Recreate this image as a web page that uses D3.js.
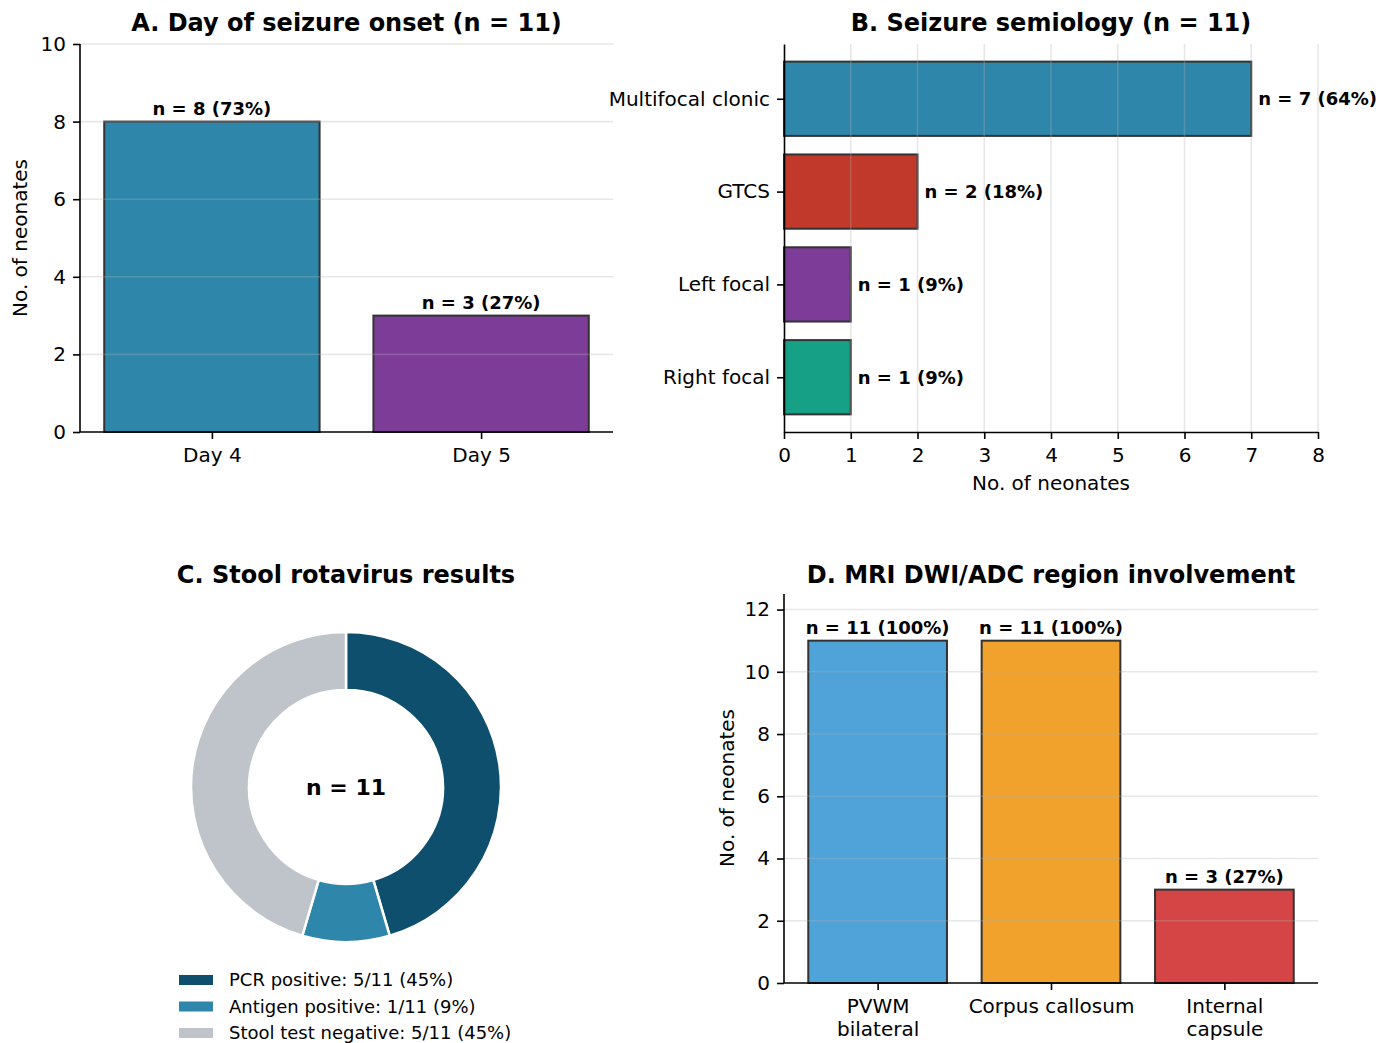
<!DOCTYPE html>
<html>
<head>
<meta charset="utf-8">
<script src="https://cdn.jsdelivr.net/npm/d3@7"></script>
<style>
body { margin: 0; background: #fff; }
svg { display: block; font-family: "DejaVu Sans", sans-serif; }
</style>
</head>
<body>
<div id="chart"></div>
<script>
// panel A - day of onset
var onsetDays = ["Day 4", "Day 5"];
var onsetCounts = [8, 3];
var onsetLabels = ["n = 8 (73%)", "n = 3 (27%)"];
var onsetColors = ["#2E86AB", "#7D3C98"];
var onsetTicks = [0, 2, 4, 6, 8, 10];

// panel B - semiology
var semioTypes = ["Multifocal clonic", "GTCS", "Left focal", "Right focal"];
var semioCounts = [7, 2, 1, 1];
var semioLabels = ["n = 7 (64%)", "n = 2 (18%)", "n = 1 (9%)", "n = 1 (9%)"];
var semioColors = ["#2E86AB", "#C0392B", "#7D3C98", "#16A085"];
var semioTicks = [0, 1, 2, 3, 4, 5, 6, 7, 8];

// panel C - stool rotavirus
var stoolGroups = ["PCR positive: 5/11 (45%)", "Antigen positive: 1/11 (9%)", "Stool test negative: 5/11 (45%)"];
var stoolCounts = [5, 1, 5];
var stoolColors = ["#0D4F6C", "#2E86AB", "#BEC4C9"];

// panel D - MRI regions
var mriRegions = [["PVWM", "bilateral"], ["Corpus callosum"], ["Internal", "capsule"]];
var mriCounts = [11, 11, 3];
var mriLabels = ["n = 11 (100%)", "n = 11 (100%)", "n = 3 (27%)"];
var mriColors = ["#4FA3D8", "#F0A22C", "#D64545"];
var mriTicks = [0, 2, 4, 6, 8, 10, 12];

var W = 1392, H = 1043;
var svg = d3.select("#chart").append("svg").attr("width", W).attr("height", H);

var gridColor = "#b0b0b0";
var edge = "#333333";

function title(txt, cx, y) {
    svg.append("text").attr("x", cx).attr("y", y)
        .attr("text-anchor", "middle").attr("font-size", 24).attr("font-weight", "bold")
        .text(txt);
}

function yLabel(txt, x, cy) {
    svg.append("text")
        .attr("transform", "translate(" + x + "," + cy + ") rotate(-90)")
        .attr("text-anchor", "middle").attr("dominant-baseline", "central")
        .attr("font-size", 20).text(txt);
}

// vertical bar panel (A and D)
function vBars(box, cats, vals, labels, colors, ticks, ymax) {
    var n = cats.length;
    var pad = (n - 1 + 0.8) * 0.05;
    var x = d3.scaleLinear().domain([-0.4 - pad, n - 1 + 0.4 + pad]).range([box.l, box.r]);
    var y = d3.scaleLinear().domain([0, ymax]).range([box.b, box.t]);

    svg.selectAll(null).data(vals).enter().append("rect")
        .attr("x", function(d, i) { return x(i - 0.4); })
        .attr("width", function(d, i) { return x(i + 0.4) - x(i - 0.4); })
        .attr("y", function(d) { return y(d); })
        .attr("height", function(d) { return y(0) - y(d); })
        .attr("fill", function(d, i) { return colors[i]; })
        .attr("stroke", edge).attr("stroke-width", 2);

    // grid on top, faint
    svg.selectAll(null).data(ticks.filter(function(t) { return t > 0; })).enter().append("line")
        .attr("x1", box.l).attr("x2", box.r)
        .attr("y1", function(d) { return y(d); }).attr("y2", function(d) { return y(d); })
        .attr("stroke", gridColor).attr("stroke-opacity", 0.3).attr("stroke-width", 1.6);

    svg.selectAll(null).data(vals).enter().append("text")
        .attr("x", function(d, i) { return x(i); })
        .attr("y", function(d) { return y(d) - 7; })
        .attr("text-anchor", "middle").attr("font-size", 18).attr("font-weight", "bold")
        .text(function(d, i) { return labels[i]; });

    var yAxis = svg.append("g").attr("transform", "translate(" + box.l + ",0)")
        .call(d3.axisLeft(y).tickValues(ticks).tickSize(7).tickPadding(7).tickSizeOuter(0));
    yAxis.select(".domain").attr("stroke-width", 1.6).attr("d", "M0," + box.t + "V" + box.b);
    yAxis.selectAll(".tick line").attr("stroke-width", 1.6);
    yAxis.selectAll(".tick text").attr("font-size", 20).attr("font-family", "DejaVu Sans").attr("fill", "#000");

    var xAxis = svg.append("g").attr("transform", "translate(0," + box.b + ")")
        .call(d3.axisBottom(x).tickValues(d3.range(n)).tickSize(7).tickPadding(9).tickSizeOuter(0).tickFormat(""));
    xAxis.select(".domain").attr("stroke-width", 1.6).attr("d", "M" + box.l + ",0H" + box.r);
    xAxis.selectAll(".tick line").attr("stroke-width", 1.6);
    xAxis.selectAll(".tick text").each(function(d) {
        var t = d3.select(this).attr("font-size", 20).attr("font-family", "DejaVu Sans").attr("fill", "#000");
        var lines = cats[d];
        if (typeof lines === "string") lines = [lines];
        lines.forEach(function(s, k) {
            t.append("tspan").attr("x", 0).attr("dy", k === 0 ? "0.71em" : "1.15em").text(s);
        });
    });
}

// ---- A
title("A. Day of seizure onset (n = 11)", 346.5, 31);
yLabel("No. of neonates", 20, 238);
vBars({l: 80, r: 613, t: 44, b: 432}, onsetDays, onsetCounts, onsetLabels, onsetColors, onsetTicks, 10);

// ---- B horizontal bars
(function() {
    var box = {l: 784, r: 1318, t: 44, b: 432};
    var n = semioTypes.length;
    var pad = (n - 1 + 0.8) * 0.05;
    var x = d3.scaleLinear().domain([0, 8]).range([box.l, box.r]);
    var y = d3.scaleLinear().domain([-0.4 - pad, n - 1 + 0.4 + pad]).range([box.t, box.b]);

    title("B. Seizure semiology (n = 11)", (box.l + box.r) / 2, 31);

    svg.selectAll(null).data(semioCounts).enter().append("rect")
        .attr("x", x(0))
        .attr("width", function(d) { return x(d) - x(0); })
        .attr("y", function(d, i) { return y(i - 0.4); })
        .attr("height", function(d, i) { return y(i + 0.4) - y(i - 0.4); })
        .attr("fill", function(d, i) { return semioColors[i]; })
        .attr("stroke", edge).attr("stroke-width", 2);

    svg.selectAll(null).data(semioTicks.filter(function(t) { return t > 0; })).enter().append("line")
        .attr("y1", box.t).attr("y2", box.b)
        .attr("x1", function(d) { return x(d); }).attr("x2", function(d) { return x(d); })
        .attr("stroke", gridColor).attr("stroke-opacity", 0.3).attr("stroke-width", 1.6);

    svg.selectAll(null).data(semioCounts).enter().append("text")
        .attr("x", function(d) { return x(d) + 7; })
        .attr("y", function(d, i) { return y(i); })
        .attr("dy", "0.36em").attr("font-size", 18).attr("font-weight", "bold")
        .text(function(d, i) { return semioLabels[i]; });

    var xAxis = svg.append("g").attr("transform", "translate(0," + box.b + ")")
        .call(d3.axisBottom(x).tickValues(semioTicks).tickSize(7).tickPadding(9).tickSizeOuter(0).tickFormat(d3.format("d")));
    xAxis.select(".domain").attr("stroke-width", 1.6);
    xAxis.selectAll(".tick line").attr("stroke-width", 1.6);
    xAxis.selectAll(".tick text").attr("font-size", 20).attr("font-family", "DejaVu Sans").attr("fill", "#000");

    var yAxis = svg.append("g").attr("transform", "translate(" + box.l + ",0)")
        .call(d3.axisLeft(y).tickValues(d3.range(n)).tickSize(7).tickPadding(7).tickSizeOuter(0)
            .tickFormat(function(d) { return semioTypes[d]; }));
    yAxis.select(".domain").attr("stroke-width", 1.6);
    yAxis.selectAll(".tick line").attr("stroke-width", 1.6);
    yAxis.selectAll(".tick text").attr("font-size", 20).attr("font-family", "DejaVu Sans").attr("fill", "#000");

    svg.append("text").attr("x", (box.l + box.r) / 2).attr("y", 490)
        .attr("text-anchor", "middle").attr("font-size", 20).text("No. of neonates");
})();

// ---- C donut
(function() {
    var cx = 346, cy = 787;
    title("C. Stool rotavirus results", cx, 583);

    var pie = d3.pie().sort(null).value(function(d) { return d; });
    var arc = d3.arc().innerRadius(97).outerRadius(155);

    var g = svg.append("g").attr("transform", "translate(" + cx + "," + cy + ")");
    g.selectAll("path").data(pie(stoolCounts)).enter().append("path")
        .attr("d", arc)
        .attr("fill", function(d, i) { return stoolColors[i]; })
        .attr("stroke", "#fff").attr("stroke-width", 2.5);

    g.append("text").attr("text-anchor", "middle").attr("dy", "0.36em")
        .attr("font-size", 22).attr("font-weight", "bold").text("n = 11");

    var leg = svg.append("g").attr("transform", "translate(179,980)");
    var rows = leg.selectAll("g").data(stoolGroups).enter().append("g")
        .attr("transform", function(d, i) { return "translate(0," + (i * 26.5) + ")"; });
    rows.append("rect").attr("x", 0).attr("y", -5).attr("width", 34).attr("height", 10)
        .attr("fill", function(d, i) { return stoolColors[i]; });
    rows.append("text").attr("x", 50).attr("dy", "0.36em").attr("font-size", 18)
        .text(function(d) { return d; });
})();

// ---- D
title("D. MRI DWI/ADC region involvement", 1051, 583);
yLabel("No. of neonates", 727, 788);
vBars({l: 784, r: 1318, t: 594, b: 983}, mriRegions, mriCounts, mriLabels, mriColors, mriTicks, 12.5);
</script>
</body>
</html>
